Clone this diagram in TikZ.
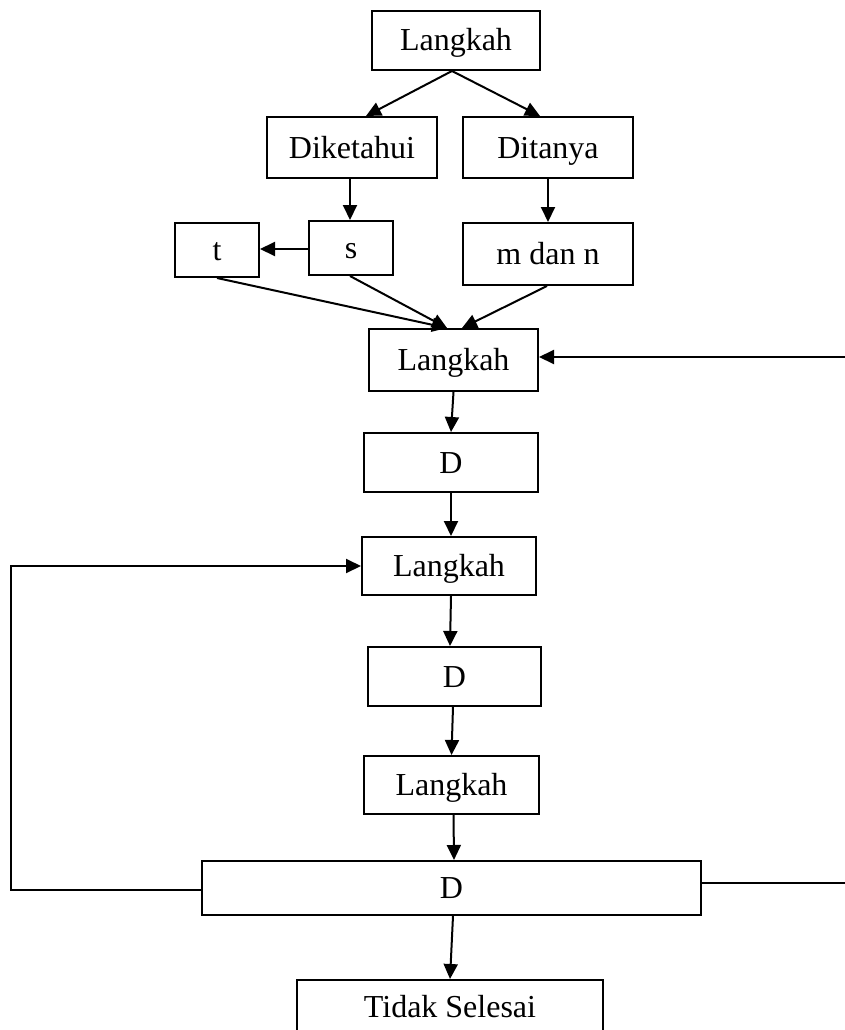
\documentclass[tikz,border=0pt]{standalone}
\usepackage{fontspec}
\setmainfont{Liberation Serif}
\usetikzlibrary{arrows.meta,calc}
\begin{document}
\begin{tikzpicture}[x=1pt,y=-1pt,
  box/.style={draw,line width=2pt,inner sep=0pt,text height=21pt,text depth=0pt,font=\fontsize{32}{38}\selectfont},
  conn/.style={line width=2pt},
  arr/.style={line width=2pt,-{Triangle[length=15pt,width=14pt]}}]
\useasboundingbox (0,0) rectangle (845,1030);
\clip (0,0) rectangle (845,1030);
\node[box,minimum width=168pt,minimum height=59pt] (L1) at (456,40.5) {Langkah};
\node[box,minimum width=170pt,minimum height=61pt] (Dik) at (352,147.5) {Diketahui};
\node[box,minimum width=170pt,minimum height=61pt] (Dit) at (548,147.5) {Ditanya};
\node[box,minimum width=84pt,minimum height=54pt] (t) at (217,250) {t};
\node[box,minimum width=84pt,minimum height=54pt] (s) at (351,248) {s};
\node[box,minimum width=170pt,minimum height=62pt] (mn) at (548,254) {m dan n};
\node[box,minimum width=169pt,minimum height=62pt] (L2) at (453.5,360) {Langkah};
\node[box,minimum width=174pt,minimum height=59pt] (D1) at (451,462.5) {D};
\node[box,minimum width=174pt,minimum height=58pt] (L3) at (449,566) {Langkah};
\node[box,minimum width=173pt,minimum height=59pt] (D2) at (454.5,676.5) {D};
\node[box,minimum width=175pt,minimum height=58pt] (L4) at (451.5,785) {Langkah};
\node[box,minimum width=499pt,minimum height=54pt] (D3) at (451.5,888) {D};
\node[box,minimum width=306pt,minimum height=54pt] (TS) at (450,1007) {Tidak Selesai};
\coordinate (rin) at (845,357);
\coordinate (rout) at (845,883);
\coordinate (lc1) at (11,890);
\coordinate (lc2) at (11,566);
\draw[arr] ([xshift=-4pt]L1.south) -- ([xshift=14pt]Dik.north);
\draw[arr] ([xshift=-4pt]L1.south) -- ([xshift=-8pt]Dit.north);
\draw[arr] ([xshift=-2pt]Dik.south) -- ([xshift=-1pt]s.north);
\draw[arr] (Dit.south) -- (mn.north);
\draw[arr] ([yshift=-1pt]s.west) -- ([yshift=1pt]t.east);
\draw[arr] (t.south) -- ([xshift=-6.5pt]L2.north);
\draw[arr] ([xshift=-1pt]s.south) -- ([xshift=-6.5pt]L2.north);
\draw[arr] ([xshift=-1pt]mn.south) -- ([xshift=8.5pt]L2.north);
\draw[arr] (rin) -- (L2.east |- rin);
\draw[arr] (L2.south) -- (D1.north);
\draw[arr] (D1.south) -- ([xshift=2pt]L3.north);
\draw[arr] (D3.west |- lc1) -- (lc1) -- (lc2) -- (L3.west |- lc2);
\draw[arr] ([xshift=2pt]L3.south) -- ([xshift=-4.5pt]D2.north);
\draw[arr] ([xshift=-1.5pt]D2.south) -- (L4.north);
\draw[arr] ([xshift=2pt]L4.south) -- ([xshift=2.5pt]D3.north);
\draw[conn] (D3.east |- rout) -- (rout);
\draw[arr] ([xshift=1.5pt]D3.south) -- (TS.north);
\end{tikzpicture}
\end{document}
